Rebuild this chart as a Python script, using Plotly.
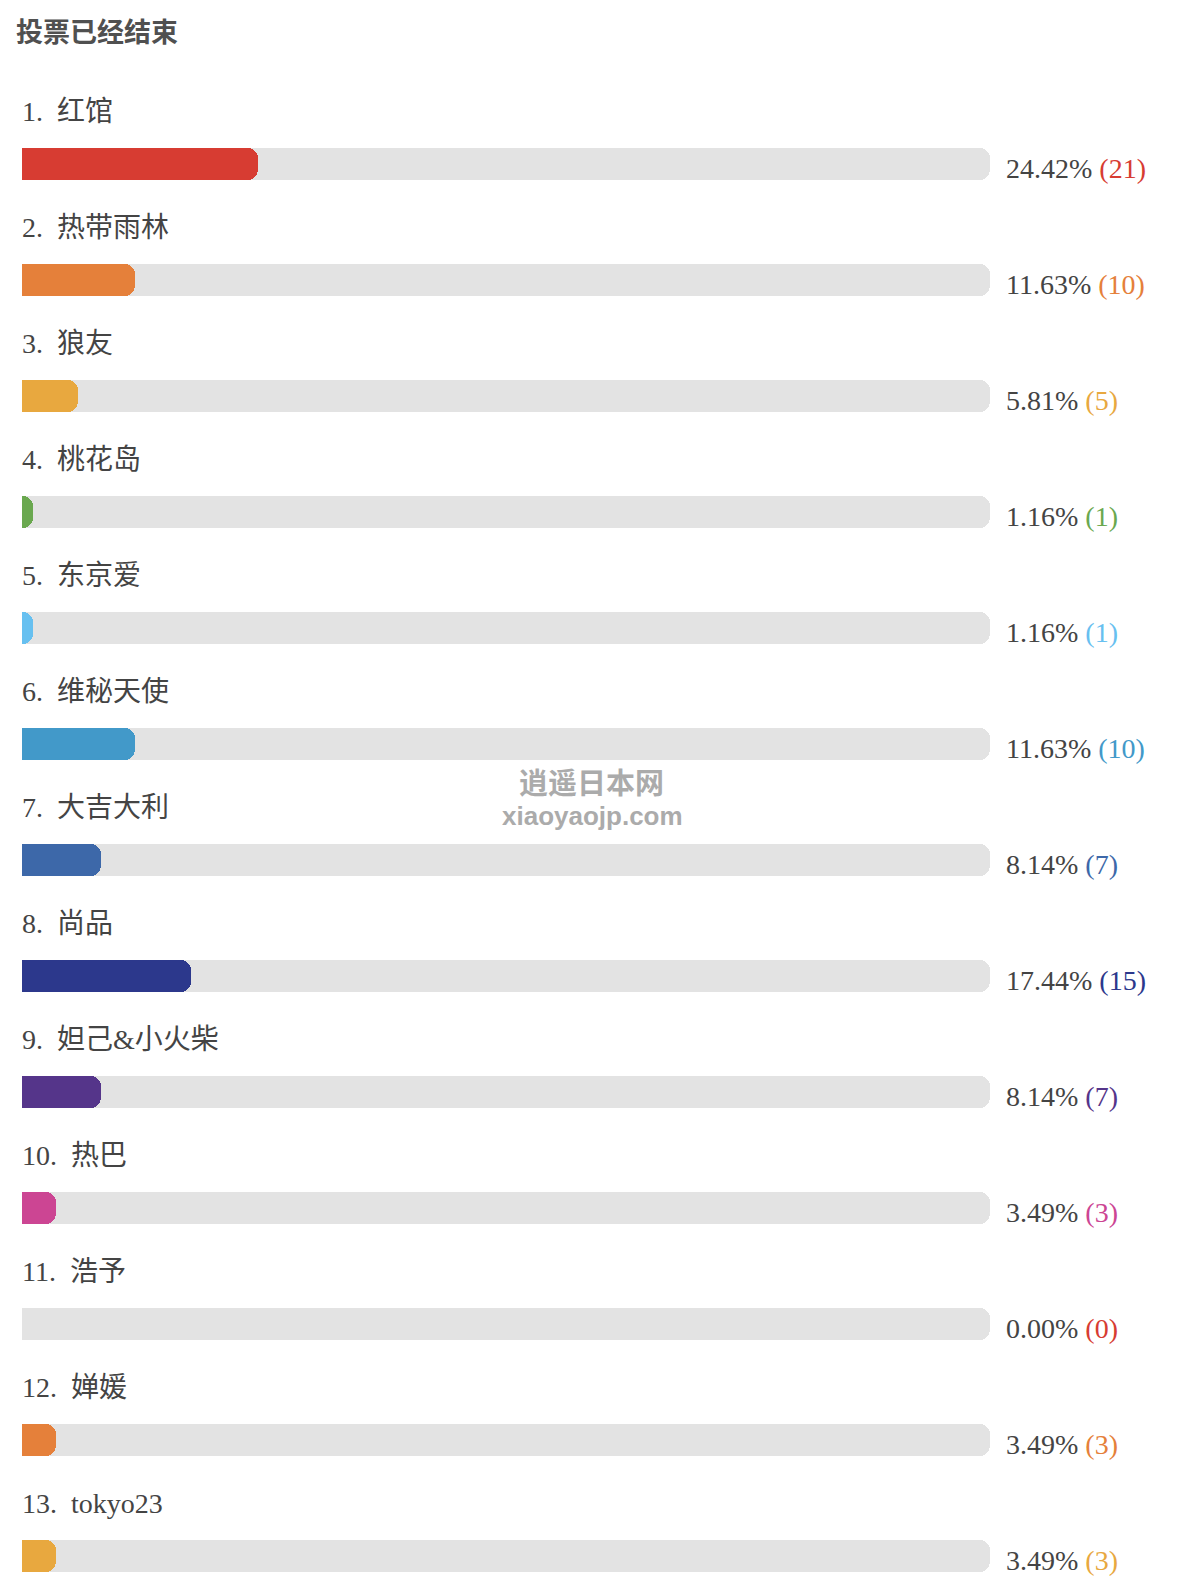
import plotly.graph_objects as go

# ---- data ----
names = ["红馆", "热带雨林", "狼友", "桃花岛", "东京爱", "维秘天使", "大吉大利",
         "尚品", "妲己&amp;小火柴", "热巴", "浩予", "婵媛", "tokyo23"]
pcts = [24.42, 11.63, 5.81, 1.16, 1.16, 11.63, 8.14, 17.44, 8.14, 3.49, 0.00, 3.49, 3.49]
counts = [21, 10, 5, 1, 1, 10, 7, 15, 7, 3, 0, 3, 3]
colors = ["#d73c32", "#e5803a", "#e8a83f", "#6aa84f", "#67c0f0", "#4299c9", "#3d68a9",
          "#2c388c", "#55358a", "#cc4593", "#d73c32", "#e5803a", "#e8a83f"]
title = "投票已经结束"
track_max = 100

# ---- layout constants ----
W, H = 1184, 1590
LEFT = 22            # px where 0% sits
PX_PER_UNIT = 9.68   # px per percentage point (track 100% ends at 990px)
FIRST = 164          # centre of first bar (px from top)
STEP = 116           # vertical spacing between rows
BAR_H = 32
PAD = 1.5            # hidden left overhang so left corners are square (clipped)

n = len(names)
rows = [FIRST + i * STEP for i in range(n)]
x_max = (W - LEFT) / PX_PER_UNIT

SERIF = "Liberation Serif, Times New Roman, Noto Sans CJK SC, serif"
TXT = "#444444"

fig = go.Figure()
# background tracks
fig.add_trace(go.Bar(
    x=[track_max + PAD] * n, y=rows, base=-PAD, orientation="h", width=BAR_H,
    marker=dict(color="#e3e3e3", line=dict(width=0), cornerradius=10),
    hoverinfo="skip", showlegend=False))
# value bars
fig.add_trace(go.Bar(
    x=[p + PAD for p in pcts], y=rows, base=-PAD, orientation="h", width=BAR_H,
    marker=dict(color=colors, line=dict(width=0), cornerradius=10),
    customdata=pcts, hovertemplate="%{customdata:.2f}%<extra></extra>",
    showlegend=False))

ann = []
ann.append(dict(text="<b>" + title + "</b>", x=14 / W, y=30, xref="paper", yref="y",
                xanchor="left", yanchor="middle", showarrow=False,
                font=dict(family="Noto Sans CJK SC, sans-serif", size=27, color="#505050")))
for i in range(n):
    ann.append(dict(text=f"{i + 1}.\u00a0\u00a0{names[i]}", x=20 / W, y=rows[i] - 53,
                    xref="paper", yref="y", xanchor="left", yanchor="middle",
                    showarrow=False, font=dict(family=SERIF, size=28, color=TXT)))
    ann.append(dict(text=f"{pcts[i]:.2f}% <span style='color:{colors[i]}'>({counts[i]})</span>",
                    x=1004 / W, y=rows[i] + 4, xref="paper", yref="y",
                    xanchor="left", yanchor="middle", showarrow=False,
                    font=dict(family=SERIF, size=28, color=TXT)))
# watermark
ann.append(dict(text="<b>逍遥日本网</b>", x=591 / W, y=781, xref="paper", yref="y",
                xanchor="center", yanchor="middle", showarrow=False,
                font=dict(family="Noto Sans CJK SC, sans-serif", size=29, color="#ababab")))
ann.append(dict(text="<b>xiaoyaojp.com</b>", x=592 / W, y=816, xref="paper", yref="y",
                xanchor="center", yanchor="middle", showarrow=False,
                font=dict(family="Liberation Sans, Arial, sans-serif", size=26, color="#ababab")))

fig.update_layout(
    width=W, height=H, autosize=False,
    margin=dict(l=0, r=0, t=0, b=0, pad=0),
    paper_bgcolor="white", plot_bgcolor="white",
    barmode="overlay", bargap=0,
    xaxis=dict(domain=[LEFT / W, 1], range=[0, x_max], visible=False, fixedrange=True),
    yaxis=dict(domain=[0, 1], range=[H, 0], visible=False, fixedrange=True),
    annotations=ann, showlegend=False, hovermode="closest",
)

fig.write_html("out.html", config={"displayModeBar": False})
